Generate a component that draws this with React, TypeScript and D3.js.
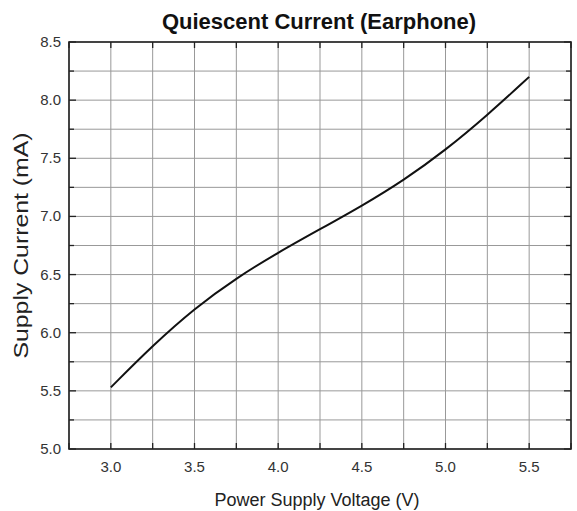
import React from "react";
import * as d3 from "d3";

const voltages = [3.0, 3.25, 3.5, 3.75, 4.0, 4.25, 4.5, 4.75, 5.0, 5.25, 5.5];
const currents = [5.53, 5.89, 6.21, 6.47, 6.69, 6.89, 7.09, 7.31, 7.57, 7.87, 8.2];
const xTicks = [3.0, 3.5, 4.0, 4.5, 5.0, 5.5];
const yTicks = [5.0, 5.5, 6.0, 6.5, 7.0, 7.5, 8.0, 8.5];
const xGrid = d3.range(2.75, 5.76, 0.25);
const yGrid = d3.range(5.0, 8.51, 0.25);

const W = 577, H = 511;
const L = 69, R = 571, T = 42, B = 449;

export default function App() {
  const x = d3.scaleLinear().domain([2.75, 5.75]).range([L, R]);
  const y = d3.scaleLinear().domain([5.0, 8.5]).range([B, T]);
  const line = d3.line<number>()
    .x((_, i) => x(voltages[i]))
    .y((d) => y(d))
    .curve(d3.curveBasis);
  const font = "Liberation Sans, Arial, Helvetica, sans-serif";
  return (
    <svg width={W} height={H} style={{ position: "absolute", left: 0, top: 0 }} fontFamily={font}>
      <rect width={W} height={H} fill="#fff" />
      {xGrid.map((v, i) => (
        <line key={"gx" + i} x1={x(v)} x2={x(v)} y1={T} y2={B} stroke="#999" strokeWidth={1} />
      ))}
      {yGrid.map((v, i) => (
        <line key={"gy" + i} x1={L} x2={R} y1={y(v)} y2={y(v)} stroke="#999" strokeWidth={1} />
      ))}
      {xGrid.map((v, i) => (
        <g key={"tx" + i}>
          <line x1={x(v)} x2={x(v)} y1={B} y2={B - 6} stroke="#222" strokeWidth={1.3} />
          <line x1={x(v)} x2={x(v)} y1={T} y2={T + 6} stroke="#222" strokeWidth={1.3} />
        </g>
      ))}
      {yGrid.map((v, i) => {
        const major = Math.abs(v * 2 - Math.round(v * 2)) < 1e-6;
        const len = major ? 7 : 5;
        return (
          <g key={"ty" + i}>
            <line x1={L} x2={L + len} y1={y(v)} y2={y(v)} stroke="#222" strokeWidth={1.3} />
            <line x1={R} x2={R - len} y1={y(v)} y2={y(v)} stroke="#222" strokeWidth={1.3} />
          </g>
        );
      })}
      <rect x={L} y={T} width={R - L} height={B - T} fill="none" stroke="#222" strokeWidth={1.6} />
      <path d={line(currents) || ""} fill="none" stroke="#111" strokeWidth={2} />
      {xTicks.map((v) => (
        <text key={"lx" + v} x={x(v)} y={B + 23} textAnchor="middle" fontSize={15} fill="#333">
          {v.toFixed(1)}
        </text>
      ))}
      {yTicks.map((v) => (
        <text key={"ly" + v} x={L - 8} y={y(v) + 5} textAnchor="end" fontSize={15} fill="#333">
          {v.toFixed(1)}
        </text>
      ))}
      <text x={(L + R) / 2 - 3} y={B + 57} textAnchor="middle" fontSize={18} fill="#222">
        Power Supply Voltage (V)
      </text>
      <text
        transform={`translate(28, ${(T + B) / 2}) rotate(-90)`}
        textAnchor="middle"
        fontSize={20}
        textLength={226}
        lengthAdjust="spacingAndGlyphs"
        fill="#222"
      >
        Supply Current (mA)
      </text>
      <text x={(L + R) / 2 - 1} y={29} textAnchor="middle" fontSize={22} fontWeight="bold" fill="#111">
        Quiescent Current (Earphone)
      </text>
    </svg>
  );
}
